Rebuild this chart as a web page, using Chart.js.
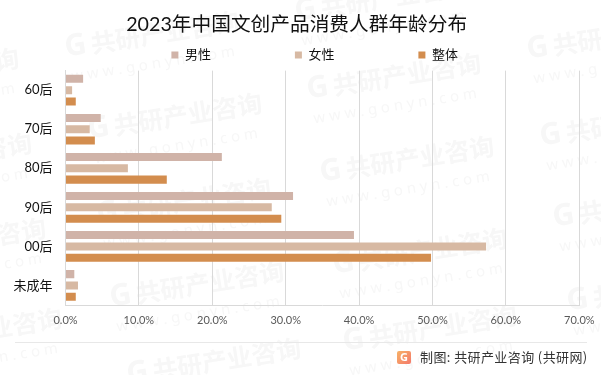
<!DOCTYPE html>
<html>
<head>
<meta charset="utf-8">
<style>
  html, body { margin: 0; padding: 0; background: #fff; }
  #wrap { width: 601px; height: 375px; position: relative; }
</style>
<script src="https://cdn.jsdelivr.net/npm/chart.js@4"></script>
</head>
<body>
<div id="wrap"><canvas id="myChart"></canvas></div>
<script>
const categories = ["60后", "70后", "80后", "90后", "00后", "未成年"];
const male = [2.4, 4.8, 21.3, 31.0, 39.3, 1.2];
const female = [0.9, 3.3, 8.5, 28.1, 57.3, 1.7];
const overall = [1.4, 4.0, 13.8, 29.4, 49.8, 1.4];

const fontFamily = "Lato, 'Noto Sans CJK SC', sans-serif";
const watermarkSpots = [
  [-155, 85], [-142, 170], [-128, 255], [-112, 345],
  [65, 48], [88, 130], [97, 215], [110, 298], [127, 375],
  [295, 12], [307, 90], [320, 173], [333, 265], [343, 342],
  [527, 50], [540, 137], [553, 218], [567, 302]
];

// faint repeated watermark, sits under the gridlines and bars
const watermark = {
  id: "watermark",
  beforeDraw(chart) {
    const ctx = chart.ctx;
    ctx.save();
    ctx.fillStyle = "#fff";
    ctx.fillRect(0, 0, chart.width, chart.height);
    ctx.fillStyle = "#f7f7f7";
    ctx.textBaseline = "middle";
    watermarkSpots.forEach(([x, y]) => {
      ctx.save();
      ctx.translate(x, y);
      ctx.rotate(-9 * Math.PI / 180);
      ctx.font = "bold 30px 'Noto Sans'";
      ctx.fillText("G", 0, 0);
      ctx.font = "bold 25px 'Noto Sans CJK SC'";
      ctx.fillText("共研产业咨询", 26, 0);
      ctx.font = "15px 'Noto Sans'";
      ctx.fillText("w w w . g o n y n . c o m", 2, 30);
      ctx.restore();
    });
    ctx.restore();
  }
};

// title and legend are moved here, the legend's wide item gap would push the plot down otherwise
const placeHeader = {
  id: "placeHeader",
  afterLayout(chart) {
    chart.titleBlock.left += 7;
    chart.titleBlock.right += 7;
    chart.legend.left += 25;
    chart.legend.right += 25;
    chart.legend.top = 55 - 6.5 - 84;
  }
};

// source line under the chart with its small logo
const footer = {
  id: "footer",
  afterDraw(chart) {
    const ctx = chart.ctx;
    ctx.save();
    ctx.strokeStyle = "#e8e8e8";
    ctx.lineWidth = 1;
    ctx.beginPath();
    ctx.moveTo(15, 342.5);
    ctx.lineTo(587, 342.5);
    ctx.stroke();

    const grad = ctx.createLinearGradient(397, 351, 411, 364);
    grad.addColorStop(0, "#f7b267");
    grad.addColorStop(1, "#f4796b");
    ctx.fillStyle = grad;
    ctx.beginPath();
    ctx.roundRect(397, 351, 14, 13, 2);
    ctx.fill();
    ctx.fillStyle = "#fff";
    ctx.font = "bold 11px 'Noto Sans'";
    ctx.textAlign = "center";
    ctx.textBaseline = "middle";
    ctx.fillText("G", 404, 358);

    ctx.fillStyle = "#333";
    ctx.font = "13px 'Noto Sans CJK SC'";
    ctx.letterSpacing = "0.4px";
    ctx.textAlign = "left";
    ctx.fillText("制图: 共研产业咨询 (共研网)", 420, 357);
    ctx.restore();
  }
};

new Chart(document.getElementById("myChart"), {
  type: "bar",
  data: {
    labels: categories,
    datasets: [
      { label: "男性", data: male, backgroundColor: "#d0b3a8" },
      { label: "女性", data: female, backgroundColor: "#d7b9a3" },
      { label: "整体", data: overall, backgroundColor: "#d38d4e" }
    ]
  },
  options: {
    indexAxis: "y",
    responsive: true,
    maintainAspectRatio: false,
    animation: false,
    categoryPercentage: 0.87,
    barPercentage: 0.71,
    layout: { padding: { left: 0, right: 21.7, top: 13, bottom: 45 } },
    plugins: {
      tooltip: { enabled: false },
      title: {
        display: true,
        text: "2023年中国文创产品消费人群年龄分布",
        color: "#111",
        font: { family: fontFamily, size: 19.7, weight: "normal" },
        padding: { top: 0, bottom: 8 }
      },
      legend: {
        position: "top",
        maxHeight: 26,
        labels: {
          boxWidth: 7,
          boxHeight: 7,
          padding: 84,
          color: "#111",
          font: { family: fontFamily, size: 13 }
        }
      }
    },
    scales: {
      x: {
        min: 0,
        max: 70,
        ticks: {
          stepSize: 10,
          maxRotation: 0,
          color: "#595959",
          padding: 9,
          font: { family: fontFamily, size: 11 },
          callback: v => v.toFixed(1) + "%"
        },
        grid: { color: "#d9d9d9", drawTicks: false },
        border: { color: "#d9d9d9" },
        afterFit(scale) {
          scale.height = 25;
          // the last label's overhang should not shrink the plot
          scale.paddingLeft = 0;
          scale.paddingRight = 0;
        }
      },
      y: {
        ticks: {
          color: "#111",
          padding: 13,
          font: { family: fontFamily, size: 13 }
        },
        grid: { display: false, drawTicks: false },
        border: { color: "#d9d9d9" },
        afterFit(scale) { scale.width = 65.5; }
      }
    }
  },
  plugins: [watermark, placeHeader, footer]
});
</script>
</body>
</html>
